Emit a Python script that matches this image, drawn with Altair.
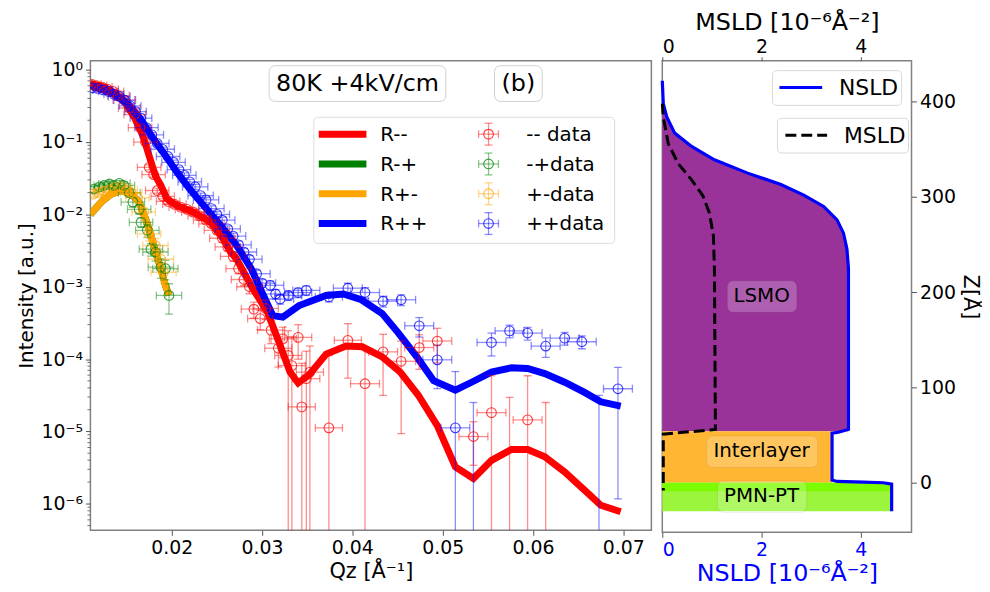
import altair as alt
import pandas as pd

# ---------------- model curves: Q [1/Å], log10(Intensity) ----------------
RMM_Q = [0.0110, 0.0125, 0.0138, 0.0147, 0.0158, 0.0168, 0.0175, 0.0182, 0.0188, 0.0195,
         0.0206, 0.0224, 0.0243, 0.0257, 0.0265, 0.0272, 0.0290, 0.0306, 0.0320, 0.0331,
         0.0340, 0.0352, 0.0371, 0.0393, 0.0411, 0.0433, 0.0453, 0.0473, 0.0494, 0.0514,
         0.0534, 0.0554, 0.0576, 0.0594, 0.0613, 0.0635, 0.0657, 0.0675, 0.0697]
RMM_LOG = [-0.19, -0.24, -0.33, -0.43, -0.64, -0.91, -1.19, -1.47, -1.60, -1.79,
           -1.88, -1.97, -2.11, -2.34, -2.52, -2.62, -3.03, -3.35, -3.81, -4.18,
           -4.33, -4.22, -3.93, -3.82, -3.83, -3.97, -4.18, -4.50, -4.92, -5.49,
           -5.65, -5.40, -5.25, -5.25, -5.35, -5.56, -5.81, -6.02, -6.11]

RPP_Q = [0.0110, 0.0133, 0.0151, 0.0166, 0.0180, 0.0192, 0.0206, 0.0220, 0.0232, 0.0254,
         0.0273, 0.0288, 0.0300, 0.0312, 0.0323, 0.0341, 0.0371, 0.0390, 0.0410, 0.0433,
         0.0451, 0.0472, 0.0490, 0.0514, 0.0532, 0.0554, 0.0576, 0.0594, 0.0613, 0.0635,
         0.0657, 0.0675, 0.0697]
RPP_LOG = [-0.22, -0.32, -0.46, -0.69, -0.96, -1.17, -1.42, -1.65, -1.83, -2.15,
           -2.45, -2.75, -3.08, -3.40, -3.42, -3.26, -3.12, -3.10, -3.18, -3.37,
           -3.64, -3.98, -4.30, -4.43, -4.32, -4.18, -4.12, -4.13, -4.20, -4.32,
           -4.46, -4.59, -4.65]

RMP_Q = [0.0110, 0.0122, 0.0133, 0.0144, 0.0155, 0.0164, 0.0171, 0.0177, 0.0182, 0.0188, 0.0193, 0.0197]
RMP_LOG = [-2.00, -1.83, -1.72, -1.67, -1.72, -1.83, -2.06, -2.29, -2.52, -2.75, -2.98, -3.12]
RPM_Q = [0.0110, 0.0122, 0.0133, 0.0144, 0.0155, 0.0164, 0.0171, 0.0177, 0.0182, 0.0188, 0.0193, 0.0197]
RPM_LOG = [-2.00, -1.83, -1.72, -1.67, -1.72, -1.83, -2.06, -2.29, -2.52, -2.75, -2.98, -3.12]

# ---------------- measured data: (Q, log10 I, relative error dI/I, dQ) ----------------
DATA_MM = [
    (0.0111, -0.20, 0.05, 0.0011), (0.0117, -0.22, 0.05, 0.0011), (0.0123, -0.24, 0.05, 0.0011),
    (0.0129, -0.27, 0.05, 0.0012), (0.0135, -0.30, 0.06, 0.0012), (0.0141, -0.36, 0.06, 0.0012),
    (0.0147, -0.42, 0.06, 0.0012), (0.0153, -0.53, 0.07, 0.0012), (0.0159, -0.62, 0.07, 0.0012),
    (0.0165, -0.80, 0.08, 0.0013), (0.0171, -1.00, 0.08, 0.0013), (0.0175, -1.35, 0.08, 0.0013),
    (0.0180, -1.45, 0.08, 0.0013), (0.0184, -1.67, 0.08, 0.0013), (0.0190, -1.75, 0.08, 0.0013),
    (0.0196, -1.82, 0.08, 0.0013), (0.0203, -1.86, 0.08, 0.0013), (0.0210, -1.90, 0.08, 0.0013),
    (0.0217, -1.93, 0.09, 0.0013), (0.0224, -1.97, 0.09, 0.0013), (0.0231, -2.02, 0.09, 0.0013),
    (0.0238, -2.08, 0.10, 0.0014), (0.0244, -2.13, 0.10, 0.0014), (0.0250, -2.22, 0.10, 0.0014),
    (0.0256, -2.33, 0.12, 0.0014), (0.0262, -2.45, 0.12, 0.0014), (0.0268, -2.58, 0.15, 0.0014),
    (0.0274, -2.75, 0.15, 0.0014), (0.0280, -2.90, 0.18, 0.0014), (0.0286, -3.00, 0.20, 0.0014),
    (0.0291, -3.31, 0.25, 0.0014), (0.0298, -3.44, 0.30, 0.0014), (0.0304, -3.30, 0.30, 0.0014),
    (0.0310, -3.60, 0.35, 0.0015), (0.0318, -3.85, 0.45, 0.0015), (0.0323, -3.72, 0.45, 0.0015),
    (0.0329, -3.95, 1.20, 0.0015), (0.0333, -4.09, 1.50, 0.0015), (0.0340, -3.70, 0.50, 0.0015),
    (0.0344, -4.66, 3.00, 0.0015), (0.0349, -4.27, 1.40, 0.0015), (0.0353, -4.18, 1.30, 0.0015),
    (0.0374, -4.95, 9.00, 0.0015), (0.0395, -3.74, 0.70, 0.0015), (0.0414, -4.34, 2.10, 0.0016),
    (0.0434, -3.90, 0.75, 0.0016), (0.0454, -4.03, 0.90, 0.0016), (0.0474, -3.84, 0.50, 0.0016),
    (0.0494, -3.75, 0.50, 0.0016), (0.0534, -5.07, 0.60, 0.0016), (0.0554, -4.74, 2.24, 0.0016),
    (0.0594, -4.84, 3.07, 0.0016),
]
DATA_MP = [
    (0.0114, -1.65, 0.10, 0.0011), (0.0120, -1.62, 0.10, 0.0011), (0.0125, -1.60, 0.10, 0.0011),
    (0.0131, -1.58, 0.10, 0.0012), (0.0136, -1.60, 0.10, 0.0012), (0.0142, -1.57, 0.10, 0.0012),
    (0.0147, -1.60, 0.12, 0.0012), (0.0153, -1.70, 0.12, 0.0012), (0.0157, -1.83, 0.15, 0.0013),
    (0.0164, -1.93, 0.15, 0.0013), (0.0166, -2.11, 0.15, 0.0013), (0.0173, -2.22, 0.20, 0.0013),
    (0.0177, -2.48, 0.20, 0.0013), (0.0182, -2.52, 0.25, 0.0014), (0.0188, -2.73, 0.30, 0.0014),
    (0.0193, -2.75, 0.30, 0.0014), (0.0197, -3.12, 0.45, 0.0014),
]
DATA_PM = [
    (0.0113, -1.72, 0.10, 0.0011), (0.0119, -1.70, 0.10, 0.0011), (0.0125, -1.68, 0.10, 0.0011),
    (0.0131, -1.66, 0.10, 0.0012), (0.0137, -1.63, 0.10, 0.0012), (0.0144, -1.62, 0.10, 0.0012),
    (0.0150, -1.66, 0.12, 0.0012), (0.0155, -1.70, 0.12, 0.0012), (0.0162, -1.77, 0.15, 0.0013),
    (0.0169, -1.97, 0.15, 0.0013), (0.0175, -2.27, 0.20, 0.0013), (0.0182, -2.43, 0.25, 0.0014),
    (0.0188, -2.62, 0.30, 0.0014), (0.0191, -2.80, 0.30, 0.0014),
]
DATA_PP = [
    (0.0112, -0.25, 0.05, 0.0010), (0.0118, -0.26, 0.05, 0.0010), (0.0124, -0.28, 0.05, 0.0011),
    (0.0130, -0.30, 0.05, 0.0011), (0.0136, -0.34, 0.05, 0.0011), (0.0142, -0.37, 0.05, 0.0012),
    (0.0148, -0.42, 0.06, 0.0012), (0.0154, -0.50, 0.06, 0.0012), (0.0160, -0.58, 0.06, 0.0012),
    (0.0166, -0.67, 0.06, 0.0012), (0.0172, -0.80, 0.07, 0.0013), (0.0178, -0.90, 0.07, 0.0013),
    (0.0184, -1.02, 0.07, 0.0013), (0.0190, -1.10, 0.07, 0.0013), (0.0196, -1.20, 0.07, 0.0013),
    (0.0202, -1.28, 0.07, 0.0013), (0.0208, -1.38, 0.08, 0.0013), (0.0214, -1.46, 0.08, 0.0013),
    (0.0220, -1.55, 0.08, 0.0013), (0.0226, -1.62, 0.08, 0.0014), (0.0232, -1.74, 0.08, 0.0014),
    (0.0238, -1.80, 0.08, 0.0014), (0.0244, -1.92, 0.09, 0.0014), (0.0250, -2.00, 0.09, 0.0014),
    (0.0256, -2.08, 0.10, 0.0014), (0.0262, -2.20, 0.10, 0.0014), (0.0268, -2.30, 0.10, 0.0014),
    (0.0274, -2.42, 0.12, 0.0014), (0.0280, -2.52, 0.12, 0.0014), (0.0286, -2.62, 0.12, 0.0014),
    (0.0294, -2.82, 0.12, 0.0015), (0.0300, -2.95, 0.12, 0.0015), (0.0309, -2.98, 0.15, 0.0015),
    (0.0315, -3.10, 0.15, 0.0015), (0.0320, -3.17, 0.15, 0.0015), (0.0329, -3.12, 0.15, 0.0015),
    (0.0340, -3.08, 0.15, 0.0015), (0.0349, -3.05, 0.15, 0.0015), (0.0374, -3.14, 0.15, 0.0015),
    (0.0395, -3.02, 0.17, 0.0016), (0.0414, -3.08, 0.17, 0.0016), (0.0434, -3.20, 0.17, 0.0016),
    (0.0454, -3.18, 0.17, 0.0016), (0.0474, -3.54, 0.30, 0.0016), (0.0494, -4.01, 0.60, 0.0016),
    (0.0514, -4.95, 5.00, 0.0016), (0.0554, -3.77, 0.35, 0.0016), (0.0574, -3.61, 0.20, 0.0016),
    (0.0594, -3.64, 0.20, 0.0016), (0.0614, -3.82, 0.30, 0.0016), (0.0635, -3.71, 0.20, 0.0016),
    (0.0654, -3.76, 0.20, 0.0016), (0.0694, -4.41, 0.97, 0.0016),
]
# points whose intensity falls below the axis: only the upper error arm is visible (Q, log10 top)
BARS_MM = [(0.0574, -4.53), (0.0614, -4.60)]
BARS_PP = [(0.0534, -4.60), (0.0673, -4.50)]

# ---------------- SLD depth profiles ----------------
NSLD_Z = [422, 398, 384, 367, 353, 339, 325, 313, 302, 290, 276, 262, 245, 225, 56, 53, 52,
          2.8, 1.4, 0.7, 0, -1.4, -30]
NSLD_V = [0.0, 0.02, 0.09, 0.25, 0.59, 1.05, 1.72, 2.39, 2.85, 3.25, 3.52, 3.65, 3.72, 3.75, 3.75,
          3.55, 3.42, 3.42, 3.52, 4.05, 4.45, 4.62, 4.62]
MSLD_Z = [398, 384, 356, 335, 318, 301, 283, 259, 224, 56, 51, -8]
MSLD_V = [0.0, 0.02, 0.12, 0.32, 0.59, 0.82, 0.95, 1.03, 1.05, 1.07, 0.02, 0.02]
LAYER_NAMES = ["LSMO", "Interlayer", "PMN-PT"]
LAYER_BOTTOM = [54, 0, -30]
LAYER_TOP = [422, 54, 0]
LAYER_SLD = [3.75, 3.42, 4.62]

SERIES = ["--", "-+", "+-", "++"]
COLORS = ["#ff0000", "#008000", "#ffa500", "#0000ff"]

# ---------------- frames ----------------
def curve_df(q, lg, name):
    return pd.DataFrame({"Q": q, "I": [10 ** v for v in lg], "series": name, "ord": range(len(q))})

curves = {
    "--": curve_df(RMM_Q, RMM_LOG, "--"),
    "-+": curve_df(RMP_Q, RMP_LOG, "-+"),
    "+-": curve_df(RPM_Q, RPM_LOG, "+-"),
    "++": curve_df(RPP_Q, RPP_LOG, "++"),
}

rows = []
for name, data in [("--", DATA_MM), ("-+", DATA_MP), ("+-", DATA_PM), ("++", DATA_PP)]:
    for q, lg, r, dq in data:
        i = 10 ** lg
        rows.append({"Q": q, "I": i, "lo": max(i * (1 - r), 1e-12), "hi": i * (1 + r),
                     "qlo": q - dq, "qhi": q + dq, "series": name})
pts = pd.DataFrame(rows)
brows = []
for name, data in [("--", BARS_MM), ("++", BARS_PP)]:
    for q, top in data:
        brows.append({"Q": q, "lo": 1e-12, "hi": 10 ** top, "series": name})
bars = pd.DataFrame(brows)

one = pd.DataFrame({"k": [0]})

LBL = 19

# ---------------- left panel ----------------
xs = alt.Scale(domain=[0.011, 0.0731], nice=False, zero=False)
ys = alt.Scale(type="log", domain=[4.3e-7, 1.33], nice=False)
col = alt.Color("series:N", scale=alt.Scale(domain=SERIES, range=COLORS), legend=None)

sup = {0: "10⁰", -1: "10⁻¹", -2: "10⁻²", -3: "10⁻³", -4: "10⁻⁴", -5: "10⁻⁵", -6: "10⁻⁶"}
expr = "'10⁻⁶'"
for k in [-5, -4, -3, -2, -1, 0]:
    expr = f"datum.value > {10 ** k / 3:.3g} ? '{sup[k]}' : ({expr})"

xaxis = alt.Axis(values=[0.02, 0.03, 0.04, 0.05, 0.06, 0.07], format=".2f", title="Qz [Å⁻¹]",
                 titlePadding=4, labelFontSize=LBL, titleFontSize=21)
yaxis = alt.Axis(values=[1e-6, 1e-5, 1e-4, 1e-3, 1e-2, 1e-1, 1], labelExpr=expr,
                 title="Intensity [a.u.]", titlePadding=5, labelFontSize=LBL, titleFontSize=20)

XA = lambda f: alt.X(f, scale=xs, axis=xaxis)
YA = lambda f: alt.Y(f, scale=ys, axis=yaxis)

layers = []
for i, s in enumerate(SERIES):
    layers.append(alt.Chart(curves[s]).mark_line(strokeWidth=7, clip=True, color=COLORS[i])
                  .encode(x=XA("Q:Q"), y=YA("I:Q"), order=alt.Order("ord:Q")))

eb = dict(opacity=0.45, strokeWidth=1.3, clip=True)
tk = dict(size=8, thickness=1.3, opacity=0.45, clip=True)
layers += [
    alt.Chart(pts).mark_rule(**eb).encode(x=XA("Q:Q"), y=YA("lo:Q"), y2="hi:Q", color=col),
    alt.Chart(bars).mark_rule(**eb).encode(x=XA("Q:Q"), y=YA("lo:Q"), y2="hi:Q", color=col),
    alt.Chart(bars).mark_tick(orient="horizontal", **tk).encode(x=XA("Q:Q"), y=YA("hi:Q"), color=col),
    alt.Chart(pts).mark_rule(**eb).encode(x=XA("qlo:Q"), x2="qhi:Q", y=YA("I:Q"), color=col),
    alt.Chart(pts).mark_tick(orient="horizontal", **tk).encode(x=XA("Q:Q"), y=YA("lo:Q"), color=col),
    alt.Chart(pts).mark_tick(orient="horizontal", **tk).encode(x=XA("Q:Q"), y=YA("hi:Q"), color=col),
    alt.Chart(pts).mark_tick(orient="vertical", **tk).encode(x=XA("qlo:Q"), y=YA("I:Q"), color=col),
    alt.Chart(pts).mark_tick(orient="vertical", **tk).encode(x=XA("qhi:Q"), y=YA("I:Q"), color=col),
    alt.Chart(pts).mark_point(shape="circle", filled=False, size=95, strokeWidth=1.1, opacity=0.75, clip=True)
        .encode(x=XA("Q:Q"), y=YA("I:Q"), color=col),
]

# minor ticks of the log axis
minor = pd.DataFrame({"v": [m * 10 ** e for e in range(-7, 1) for m in range(2, 10)
                            if 4.3e-7 < m * 10 ** e < 1.33]})
layers.append(alt.Chart(minor).mark_rule(color="#555", strokeWidth=0.8)
              .encode(x=alt.value(0), x2=alt.value(-3), y=YA("v:Q")))


def px_rect(x1, x2, y1, y2, **kw):
    return alt.Chart(one).mark_rect(**kw).encode(x=alt.value(x1), x2=alt.value(x2),
                                                 y=alt.value(y1), y2=alt.value(y2))


def px_rule(x1, x2, y1, y2, **kw):
    return alt.Chart(one).mark_rule(**kw).encode(x=alt.value(x1), x2=alt.value(x2),
                                                 y=alt.value(y1), y2=alt.value(y2))


def px_text(x, y, s, **kw):
    return alt.Chart(one).mark_text(text=s, **kw).encode(x=alt.value(x), y=alt.value(y))


# annotation boxes
layers += [
    px_rect(180, 358, 5, 41, fill="white", stroke="#d0d0d0", strokeWidth=1, cornerRadius=6),
    px_text(269, 24, "80K +4kV/cm", fontSize=24, align="center", baseline="middle"),
    px_rect(407, 455, 5, 41, fill="white", stroke="#d0d0d0", strokeWidth=1, cornerRadius=6),
    px_text(431, 24, "(b)", fontSize=24, align="center", baseline="middle"),
    px_rect(225, 528, 57, 184, fill="white", stroke="#d9d9d9", strokeWidth=1, cornerRadius=4, opacity=0.9),
]
LEG_LINE = ["R--", "R-+", "R+-", "R++"]
LEG_DATA = ["-- data", "-+data", "+-data", "++data"]
for i, yy in enumerate([74, 104, 134, 164]):
    c = COLORS[i]
    layers += [
        px_rule(230, 278, yy, yy, color=c, strokeWidth=7),
        px_text(292, yy + 1, LEG_LINE[i], fontSize=20, align="left", baseline="middle"),
        px_rule(401, 401, yy - 11, yy + 11, color=c, opacity=0.45, strokeWidth=1.3),
        px_rule(391, 411, yy, yy, color=c, opacity=0.45, strokeWidth=1.3),
        px_rule(397, 405, yy - 11, yy - 11, color=c, opacity=0.45, strokeWidth=1.3),
        px_rule(397, 405, yy + 11, yy + 11, color=c, opacity=0.45, strokeWidth=1.3),
        px_rule(391, 391, yy - 4, yy + 4, color=c, opacity=0.45, strokeWidth=1.3),
        px_rule(411, 411, yy - 4, yy + 4, color=c, opacity=0.45, strokeWidth=1.3),
        alt.Chart(one).mark_point(shape="circle", filled=False, size=95, strokeWidth=1.1,
                                  color=c, opacity=0.75).encode(x=alt.value(401), y=alt.value(yy)),
        px_text(439, yy + 1, LEG_DATA[i], fontSize=20, align="left", baseline="middle"),
    ]

left = alt.layer(*layers).properties(width=565, height=473)

# ---------------- right panel ----------------
xr = alt.Scale(domain=[0, 5.02], nice=False, zero=False)
zr = alt.Scale(domain=[-52, 443], nice=False, zero=False)
nsld = pd.DataFrame({"Z": NSLD_Z, "V": NSLD_V, "ord": range(len(NSLD_Z))})
msld = pd.DataFrame({"Z": MSLD_Z, "V": MSLD_V, "ord": range(len(MSLD_Z))})
lsmo = pd.DataFrame({"Z": [LAYER_BOTTOM[0]] + [z for z in NSLD_Z if z >= 56],
                     "V": [LAYER_SLD[0]] + [v for z, v in zip(NSLD_Z, NSLD_V) if z >= 56],
                     "V0": 0.0})
rects = pd.DataFrame({"name": LAYER_NAMES[1:], "z0": LAYER_BOTTOM[1:], "z1": LAYER_TOP[1:],
                      "v": LAYER_SLD[1:], "v0": [0, 0]})

bottom_axis = alt.Axis(orient="bottom", values=[0, 2, 4], title="NSLD [10⁻⁶Å⁻²]",
                       labelColor="#0000ff", titleColor="#0000ff", titlePadding=3,
                       labelFontSize=LBL, titleFontSize=24)
top_axis = alt.Axis(orient="top", values=[0, 2, 4], title="MSLD [10⁻⁶Å⁻²]", titlePadding=3,
                    labelFontSize=LBL, titleFontSize=24, labelPadding=0, tickSize=4)
z_axis = alt.Axis(orient="right", values=[0, 100, 200, 300, 400], title="Z[Å]", titlePadding=4,
                  labelFontSize=LBL, titleFontSize=21)

RX = lambda f: alt.X(f, scale=xr, axis=bottom_axis)
RY = lambda f: alt.Y(f, scale=zr, axis=z_axis)

inner = [
    alt.Chart(lsmo).mark_area(orient="horizontal", color="#993399")
        .encode(x=RX("V:Q"), x2="V0:Q", y=RY("Z:Q")),
    alt.Chart(rects[rects.name == "Interlayer"]).mark_rect(color="#ffb733")
        .encode(x=RX("v0:Q"), x2="v:Q", y=RY("z0:Q"), y2="z1:Q"),
    alt.Chart(rects[rects.name == "PMN-PT"]).mark_rect(color="#9af53c")
        .encode(x=RX("v0:Q"), x2="v:Q", y=RY("z0:Q"), y2="z1:Q"),
    alt.Chart(pd.DataFrame({"v0": [0], "v": [LAYER_SLD[2]], "z0": [-9], "z1": [0]})).mark_rect(color="#7cfc00")
        .encode(x=RX("v0:Q"), x2="v:Q", y=RY("z0:Q"), y2="z1:Q"),
    alt.Chart(nsld).mark_line(color="#0000ff", strokeWidth=3.2)
        .encode(x=RX("V:Q"), y=RY("Z:Q"), order=alt.Order("ord:Q")),
]
ann = pd.DataFrame({"name": LAYER_NAMES, "x": [2.0, 2.0, 2.0], "z": [196, 33, -14],
                    "x0": [1.31, 0.89, 1.11], "x1": [2.71, 3.13, 2.91],
                    "z0": [179, 16, -31], "z1": [212, 49, 2]})
inner += [
    alt.Chart(ann).mark_rect(fill="white", fillOpacity=0.22, stroke="#000", strokeOpacity=0.08, cornerRadius=6)
        .encode(x=RX("x0:Q"), x2="x1:Q", y=RY("z0:Q"), y2="z1:Q"),
    alt.Chart(ann).mark_text(fontSize=20, color="black", baseline="middle", align="center")
        .encode(x=RX("x:Q"), y=RY("z:Q"), text="name:N"),
    px_rect(111, 241, 10, 45, fill="white", stroke="#d9d9d9", strokeWidth=1, cornerRadius=4),
    px_rule(118, 161, 27, 27, color="#0000ff", strokeWidth=3.2),
    px_text(178, 28, "NSLD", fontSize=22, align="left", baseline="middle"),
    px_rect(116, 248, 58, 93, fill="white", stroke="#d9d9d9", strokeWidth=1, cornerRadius=4),
    px_rule(124, 166, 75, 75, color="black", strokeWidth=3, strokeDash=[11, 5]),
    px_text(183, 76, "MSLD", fontSize=22, align="left", baseline="middle"),
]
inner_layer = alt.layer(*inner)

msld_layer = alt.Chart(msld).mark_line(color="black", strokeWidth=3, strokeDash=[11, 5]).encode(
    x=alt.X("V:Q", scale=xr, axis=top_axis),
    y=RY("Z:Q"),
    order=alt.Order("ord:Q"),
)

right = alt.layer(inner_layer, msld_layer).resolve_scale(x="independent").properties(width=251, height=475)

chart = (
    alt.hconcat(left, right, spacing=11, bounds="flush")
    .properties(padding={"left": 7, "top": 0, "right": 0, "bottom": 0})
    .configure(font="DejaVu Sans")
    .configure_axis(labelFontSize=LBL, titleFontWeight="normal", labelColor="black",
                    titleColor="black", tickColor="#555", domain=False, grid=False, tickSize=5,
                    labelPadding=3, labelFont="DejaVu Sans", titleFont="DejaVu Sans")
    .configure_view(stroke="#808080", strokeWidth=1.5)
)

chart.save("out.html", embed_options={"renderer": "svg", "actions": False})
